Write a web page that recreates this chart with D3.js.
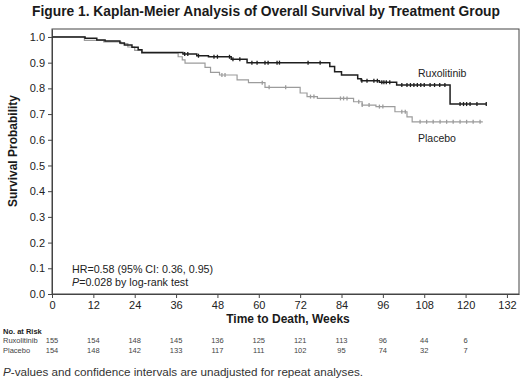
<!DOCTYPE html>
<html>
<head>
<meta charset="utf-8">
<script src="https://cdn.jsdelivr.net/npm/d3@7"></script>
<style>
  body { margin: 0; background: #fff; }
  svg { display: block; font-family: 'Liberation Sans', Arial, sans-serif; }
</style>
</head>
<body>
<div id="chart"></div>
<script>
// Kaplan-Meier overall survival, ruxolitinib vs placebo.
// Steps are [week, survival after the event]; censor marks are weeks.
const X_TICKS = [0, 12, 24, 36, 48, 60, 72, 84, 96, 108, 120, 132];
const Y_TICKS = [0, 0.1, 0.2, 0.3, 0.4, 0.5, 0.6, 0.7, 0.8, 0.9, 1.0];

const RUX_STEPS = [
  [9.6, 0.995], [13, 0.988], [15.4, 0.984], [19.7, 0.977], [21, 0.969],
  [23.2, 0.960], [25, 0.950], [26.1, 0.940], [38, 0.934], [42, 0.927],
  [45.4, 0.923], [52, 0.913], [56.6, 0.900], [80.6, 0.885], [82, 0.865],
  [84, 0.852], [88.7, 0.837], [89.7, 0.830], [95, 0.824], [100, 0.813],
  [115.5, 0.739]
];
const RUX_END = 126;
const RUX_CENSOR = [
  38.5, 39.4, 42.5, 47, 48, 51.5, 52.5, 54.5, 58, 59.5, 61.8, 62.7, 65.3, 66,
  74.3, 77.8, 89.9, 91.4, 93.4, 94.4, 95.7, 96.3, 97, 98, 101.5, 103,
  104, 105, 106, 107, 108, 109.7, 111, 112.5, 114, 118.4, 119.4, 120.3,
  121.3, 123.3, 126
];

const PBO_STEPS = [
  [9.4, 0.987], [15, 0.981], [20, 0.974], [22, 0.961], [24, 0.948],
  [26, 0.937], [36.6, 0.923], [37.8, 0.911], [38.6, 0.898], [44.4, 0.882],
  [46, 0.862], [48.6, 0.852], [53.7, 0.833], [57, 0.822], [61.8, 0.804],
  [72, 0.782], [74, 0.768], [77, 0.761], [87.5, 0.748], [90, 0.735],
  [94, 0.729], [99.5, 0.709], [103, 0.689], [104.5, 0.670]
];
const PBO_END = 125;
const PBO_CENSOR = [
  49.3, 50.2, 61, 63, 67.8, 75, 76, 83.7, 84.6, 85.6, 89, 90, 92, 95, 96,
  101.5, 102.5, 106.8, 108.7, 110.6, 112.6, 114.5, 116.4, 118.4, 120.3,
  122.2, 124.2
];

const RISK_WEEKS = [0, 12, 24, 36, 48, 60, 72, 84, 96, 108, 120];
const RISK_RUX = [155, 154, 148, 145, 136, 125, 121, 113, 96, 44, 6];
const RISK_PBO = [154, 148, 142, 133, 117, 111, 102, 95, 74, 32, 7];

const WIDTH = 520;
const HEIGHT = 386;
const PLOT = { left: 52, right: 519, top: 29, bottom: 294 };

const svg = d3.select('#chart')
  .append('svg')
  .attr('width', WIDTH)
  .attr('height', HEIGHT);

const x = d3.scaleLinear().domain([0, 135.5]).range([PLOT.left, PLOT.right]);
const y = d3.scaleLinear().domain([0, 1.031]).range([PLOT.bottom, PLOT.top]);

svg.append('text')
  .attr('x', 266)
  .attr('y', 16)
  .attr('text-anchor', 'middle')
  .style('font-size', '13.8px')
  .style('font-weight', 'bold')
  .style('fill', '#1a1a1a')
  .text('Figure 1. Kaplan-Meier Analysis of Overall Survival by Treatment Group');

// plot frame
svg.append('rect')
  .attr('x', PLOT.left)
  .attr('y', PLOT.top)
  .attr('width', PLOT.right - PLOT.left)
  .attr('height', PLOT.bottom - PLOT.top)
  .attr('fill', 'none')
  .attr('stroke', '#444')
  .attr('stroke-width', 1);

const xAxis = svg.append('g')
  .attr('transform', `translate(0,${PLOT.bottom})`)
  .call(d3.axisBottom(x).tickValues(X_TICKS).tickSize(4).tickPadding(3.5).tickSizeOuter(0));

const yAxis = svg.append('g')
  .attr('transform', `translate(${PLOT.left},0)`)
  .call(d3.axisLeft(y).tickValues(Y_TICKS).tickFormat(d3.format('.1f')).tickSize(4).tickPadding(3).tickSizeOuter(0));

[xAxis, yAxis].forEach(ax => {
  ax.select('.domain').attr('stroke', '#444');
  ax.selectAll('.tick line').attr('stroke', '#444');
  ax.selectAll('text')
    .style('font-size', '11px')
    .style('fill', '#222')
    .style('font-family', "'Liberation Sans', Arial, sans-serif");
});

svg.append('text')
  .attr('transform', 'translate(17,151) rotate(-90)')
  .attr('text-anchor', 'middle')
  .style('font-size', '12px')
  .style('font-weight', 'bold')
  .style('fill', '#1a1a1a')
  .text('Survival Probability');

svg.append('text')
  .attr('x', 288)
  .attr('y', 322.5)
  .attr('text-anchor', 'middle')
  .style('font-size', '12px')
  .style('font-weight', 'bold')
  .style('fill', '#1a1a1a')
  .text('Time to Death, Weeks');

// survival curves
function curvePoints(steps, end) {
  const pts = [[0, 1]].concat(steps);
  pts.push([end, steps[steps.length - 1][1]]);
  return pts;
}

function survivalAt(steps, t) {
  let s = 1;
  steps.forEach(d => { if (d[0] <= t) s = d[1]; });
  return s;
}

const line = d3.line()
  .x(d => x(d[0]))
  .y(d => y(d[1]))
  .curve(d3.curveStepAfter);

const groups = [
  { steps: PBO_STEPS, end: PBO_END, censor: PBO_CENSOR, color: '#9c9c9c', width: 1.2 },
  { steps: RUX_STEPS, end: RUX_END, censor: RUX_CENSOR, color: '#1e1e1e', width: 1.5 }
];

groups.forEach(g => {
  svg.append('path')
    .datum(curvePoints(g.steps, g.end))
    .attr('d', line)
    .attr('fill', 'none')
    .attr('stroke', g.color)
    .attr('stroke-width', g.width);

  svg.append('g')
    .selectAll('line')
    .data(g.censor)
    .join('line')
    .attr('x1', d => x(d))
    .attr('x2', d => x(d))
    .attr('y1', d => y(survivalAt(g.steps, d)) - 2)
    .attr('y2', d => y(survivalAt(g.steps, d)) + 2)
    .attr('stroke', g.color)
    .attr('stroke-width', 1.3);
});

svg.append('text')
  .attr('x', 418)
  .attr('y', 77)
  .style('font-size', '10.5px')
  .style('fill', '#222')
  .text('Ruxolitinib');

svg.append('text')
  .attr('x', 418)
  .attr('y', 142)
  .style('font-size', '10.5px')
  .style('fill', '#222')
  .text('Placebo');

const stats = svg.append('text')
  .attr('x', 72)
  .style('font-size', '10.7px')
  .style('fill', '#222');
stats.append('tspan').attr('x', 72).attr('y', 273).text('HR=0.58 (95% CI: 0.36, 0.95)');
const pLine = stats.append('tspan').attr('x', 72).attr('y', 286);
pLine.append('tspan').style('font-style', 'italic').text('P');
pLine.append('tspan').text('=0.028 by log-rank test');

// number at risk table
svg.append('text')
  .attr('x', 3)
  .attr('y', 334)
  .style('font-size', '7.5px')
  .style('font-weight', 'bold')
  .style('fill', '#222')
  .text('No. at Risk');

[['Ruxolitinib', RISK_RUX, 343], ['Placebo', RISK_PBO, 353]].forEach(([label, counts, yy]) => {
  svg.append('text')
    .attr('x', 3)
    .attr('y', yy)
    .style('font-size', '7.5px')
    .style('fill', '#444')
    .text(label);
  svg.append('g')
    .selectAll('text')
    .data(counts)
    .join('text')
    .attr('x', (d, i) => x(RISK_WEEKS[i]))
    .attr('y', yy)
    .attr('text-anchor', 'middle')
    .style('font-size', '7.5px')
    .style('fill', '#444')
    .text(d => d);
});

const foot = svg.append('text')
  .attr('x', 3)
  .attr('y', 376)
  .attr('textLength', 360)
  .attr('lengthAdjust', 'spacingAndGlyphs')
  .style('font-size', '10px')
  .style('fill', '#333');
foot.append('tspan').style('font-style', 'italic').text('P');
foot.append('tspan').text('-values and confidence intervals are unadjusted for repeat analyses.');
</script>
</body>
</html>
